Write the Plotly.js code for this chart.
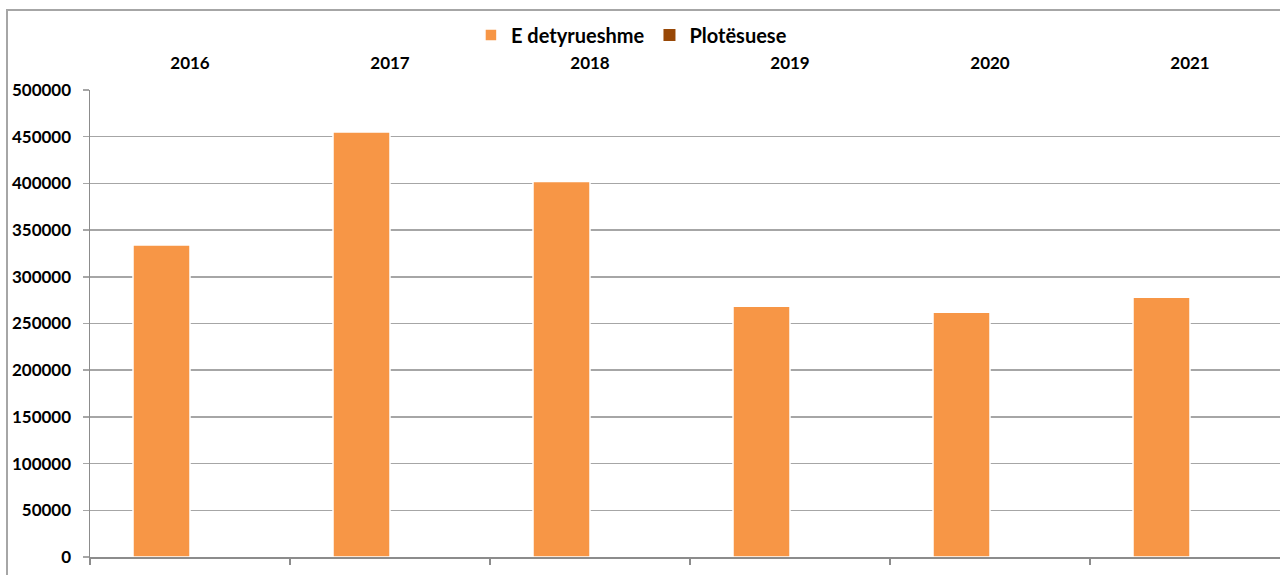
<!DOCTYPE html>
<html>
<head>
<meta charset="utf-8">
<script src="https://cdn.plot.ly/plotly-3.0.1.min.js"></script>
<style>
  html, body { margin: 0; padding: 0; background: #ffffff; overflow: hidden; }
  #frame { position: absolute; left: 6px; top: 9px; width: 1400px; height: 700px; border: 2px solid #A6A6A6; box-sizing: border-box; }
  #chart { position: absolute; left: 0; top: 0; width: 1280px; height: 575px; }
</style>
</head>
<body>
<div id="frame"></div>
<div id="chart"></div>
<script>
// Data
const years = ['2016', '2017', '2018', '2019', '2020', '2021'];
const eDetyrueshme = [334000, 455000, 402000, 268500, 262000, 278000];
const plotesuese = [0, 0, 0, 0, 0, 0];
const yTickVals = [0, 50000, 100000, 150000, 200000, 250000, 300000, 350000, 400000, 450000, 500000];
const seriesNames = ['E detyrueshme', 'Plotësuese'];
const seriesColors = ['#F79646', '#984807'];

const baseFont = { family: 'Lato, "Open Sans", sans-serif', size: 17, color: '#000000', weight: 'bold' };

const traces = [
  {
    type: 'bar', x: years, y: eDetyrueshme, name: seriesNames[0],
    xaxis: 'x', yaxis: 'y',
    marker: { color: seriesColors[0], line: { color: '#ffffff', width: 1.5 } },
    hoverinfo: 'x+y'
  },
  {
    type: 'bar', x: years, y: plotesuese, name: seriesNames[1],
    xaxis: 'x', yaxis: 'y',
    marker: { color: seriesColors[1], line: { color: '#ffffff', width: 0 } },
    hoverinfo: 'x+y'
  },
  {
    type: 'scatter', mode: 'markers', x: years, y: plotesuese,
    xaxis: 'x2', yaxis: 'y', showlegend: false, hoverinfo: 'skip',
    marker: { opacity: 0, size: 1 }
  }
];

const layout = {
  width: 1280, height: 575,
  margin: { l: 90, r: 0, t: 90, b: 18, pad: 0 },
  paper_bgcolor: 'rgba(0,0,0,0)',
  plot_bgcolor: 'rgba(0,0,0,0)',
  font: baseFont,
  barmode: 'group',
  bargap: 0.43,
  bargroupgap: 0,
  showlegend: true,
  legend: {
    orientation: 'h', x: 0.455, xanchor: 'center', y: 1.118, yanchor: 'middle',
    font: { family: baseFont.family, size: 20, color: '#000000', weight: 'bold' },
    itemwidth: 30, traceorder: 'normal', bgcolor: 'rgba(0,0,0,0)'
  },
  xaxis: {
    type: 'category', categoryorder: 'array', categoryarray: years,
    side: 'top', range: [-0.5, 5.45],
    showgrid: false, showline: false, zeroline: false, ticks: '',
    ticklabelstandoff: 17,
    tickfont: { family: baseFont.family, size: 17, color: '#000000', weight: 'bold' },
    fixedrange: true
  },
  xaxis2: {
    type: 'category', categoryorder: 'array', categoryarray: years,
    overlaying: 'x', side: 'bottom', anchor: 'y', range: [-0.5, 5.45],
    showgrid: false, zeroline: false, showticklabels: false,
    showline: true, linecolor: '#8C8C8C', linewidth: 2,
    ticks: 'outside', tickson: 'boundaries', ticklen: 6, tickcolor: '#8C8C8C', tickwidth: 1.5,
    fixedrange: true
  },
  yaxis: {
    range: [0, 500000], tickmode: 'array', tickvals: yTickVals,
    ticktext: yTickVals.map(v => String(v)),
    showgrid: true, gridcolor: '#A6A6A6', gridwidth: 1.5,
    zeroline: false,
    showline: true, linecolor: '#8C8C8C', linewidth: 1.5,
    ticks: 'outside', ticklen: 6, tickcolor: '#A6A6A6', tickwidth: 1.5,
    ticklabelstandoff: 8,
    tickfont: { family: baseFont.family, size: 17, color: '#000000', weight: 'bold' },
    fixedrange: true
  }
};

Plotly.newPlot('chart', traces, layout, { displayModeBar: false, staticPlot: true });
</script>
</body>
</html>
